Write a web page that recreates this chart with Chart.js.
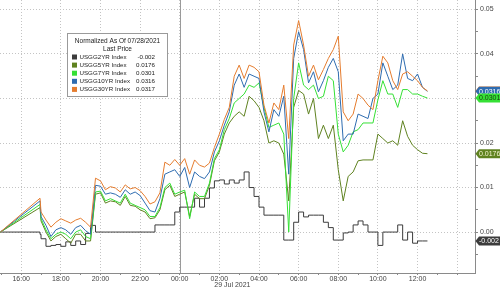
<!DOCTYPE html>
<html>
<head>
<meta charset="utf-8">
<script src="https://cdn.jsdelivr.net/npm/chart.js@4.4.1/dist/chart.umd.min.js"></script>
<style>
  html, body { margin: 0; padding: 0; background: #fff; }
</style>
</head>
<body>
<canvas id="chart" width="500" height="289"></canvas>
<script>
// hours since 00:00 on 28 Jul 2021 (24 = 00:00 on 29 Jul)
const times = [14.95, 16.95,
  17, 17.25, 17.5, 17.75, 18, 18.25, 18.5, 18.75, 19, 19.25, 19.5, 19.75,
  20, 20.25, 20.5, 20.75, 21, 21.25, 21.5, 21.75, 22, 22.25, 22.5, 22.75,
  23, 23.25, 23.5, 23.75, 24, 24.25, 24.5, 24.75, 25, 25.25, 25.5, 25.75,
  26, 26.25, 26.5, 26.75, 27, 27.25, 27.5, 27.75, 28, 28.25, 28.5, 28.75,
  29, 29.25, 29.5, 29.75, 30, 30.25, 30.5, 30.75, 31, 31.25, 31.5, 31.75,
  32, 32.25, 32.5, 32.75, 33, 33.25, 33.5, 33.75, 34, 34.25, 34.5, 34.75,
  35, 35.25, 35.5, 35.75, 36, 36.25, 36.5];

const hourTicks = [15, 16, 17, 18, 19, 20, 21, 22, 23, 24, 25, 26, 27, 28, 29, 30, 31, 32, 33, 34, 35, 36, 37, 38];
const yTicks = [-0.005, 0, 0.005, 0.01, 0.015, 0.02, 0.025, 0.03, 0.035, 0.04, 0.045, 0.05];

// normalized change, in thousandths
const usgg2yr = [0, 0,
  -0.5, -1.5, -3.2, -3.0, -2.8, -3.2, -2.2, -3.0, -2.0, -2.8, -0.3, 1.5,
  0, 0, 0, 0, 0, 0, 0, 0, 0, 0, 0, 0,
  1.6, 1.6, 1.6, 1.6, 4.5, 5.6, 5.6, 5.6, 7.6, 5.6, 7.6, 9.9,
  11.5, 11.7, 10.8, 11.7, 11.0, 11.7, 13.5, 10.0, 8.0, 5.6, 3.8, 3.8,
  3.8, 3.8, -1.8, -1.8, 2.2, 4.5, 3.4, 3.8, 3.8, 3.8, 2.2, 1.0,
  -1.8, -1.8, -0.2, 0, 1.6, 2.5, 1.6, 0, 0, -3.0, 0, 0,
  0, 1.6, -1.8, 0, -2.5, -2.0, -2.0];

const usgg5yr = [0, 5.5,
  2.5, 0, -2.0, -1.0, -0.5, -1.5, -2.5, -0.5, -0.5, -2.0, -2.0, 8.5,
  8.8, 6.5, 7.0, 6.8, 6.0, 8.0, 6.0, 5.8, 5.0, 4.5, 3.0, 3.2,
  5.0, 9.5, 10.5, 8.0, 8.5, 9.0, 3.5, 8.5, 7.5, 7.5, 10.5, 16.0,
  18.0, 22.0, 24.5, 26.0, 27.0, 26.0, 30.5, 29.5, 28.0, 25.0, 20.0, 20.5,
  20.0, 17.5, 7.0, 28.0, 31.8, 31.0, 26.5, 30.0, 21.0, 24.0, 21.0, 24.0,
  14.0, 7.0, 12.5, 13.5, 16.0, 16.2, 16.2, 16.2, 22.0, 21.0, 20.0, 20.5,
  19.5, 25.0, 21.5, 19.5, 18.5, 17.7, 17.6];

const usgg7yr = [0, 6.2,
  3.0, 0.5, -1.5, -0.5, 0, -0.5, -1.5, 0, 0.5, -1.0, -1.5, 9.0,
  9.2, 7.0, 7.5, 7.0, 6.5, 8.5, 6.5, 6.0, 5.5, 5.0, 3.5, 3.5,
  5.5, 10.0, 11.0, 8.5, 9.0, 9.4, 3.0, 9.0, 8.0, 8.0, 11.0, 16.5,
  18.5, 23.0, 25.5, 29.0, 30.0, 31.0, 33.0, 32.5, 33.5, 28.0, 23.5, 24.0,
  24.5, 22.0, 0.0, 30.0, 38.0, 33.0, 32.0, 33.0, 30.0, 30.5, 35.0, 34.0,
  22.0, 18.0, 19.5, 22.5, 23.0, 24.5, 24.5, 24.5, 29.7, 34.0, 31.0, 31.0,
  28.0, 32.0, 32.0, 31.0, 31.0, 30.5, 30.1];

const usgg10yr = [0, 7.0,
  3.5, 1.5, -1.0, 0.5, 1.0, 0.5, -0.5, 1.0, 1.5, 0.3, -0.5, 10.5,
  10.3, 8.5, 8.8, 8.5, 7.8, 9.5, 8.5, 9.0, 8.2, 6.5, 4.8, 4.5,
  7.5, 13.0, 13.5, 14.0, 12.5, 14.5, 10.0, 13.5, 12.5, 12.0, 13.5, 18.0,
  20.5, 24.0, 27.0, 33.0, 35.5, 32.5, 35.5, 35.0, 34.5, 27.0, 22.5, 27.5,
  26.0, 30.5, 13.0, 39.0, 45.0, 41.0, 33.5, 36.0, 31.5, 34.0, 37.0, 39.0,
  36.0, 20.5, 22.0, 22.0, 26.5, 26.0, 25.5, 30.0, 31.0, 38.0, 35.0, 32.0,
  33.0, 40.0, 34.5, 34.0, 35.5, 32.5, 31.6];

const usgg30yr = [0, 7.6,
  4.5, 2.7, 1.1, 2.2, 3.0, 2.5, 2.0, 2.7, 3.1, 2.2, 1.1, 12.1,
  11.5, 9.5, 10.2, 9.9, 9.0, 10.6, 9.7, 10.0, 9.3, 8.0, 6.3, 6.8,
  8.8, 15.7, 15.0, 16.3, 15.0, 16.5, 13.0, 16.2, 15.0, 14.6, 15.5, 19.0,
  22.0, 25.3, 28.0, 35.0, 37.5, 34.5, 37.5, 37.0, 36.0, 28.5, 24.5, 29.0,
  27.5, 33.0, 21.0, 42.0, 47.5, 42.0, 35.0, 37.5, 34.2, 36.5, 39.0, 41.0,
  44.0, 27.0, 25.0, 26.5, 31.0, 30.0, 28.5, 27.5, 34.0, 39.5, 38.0, 34.0,
  32.0, 35.5, 36.0, 35.0, 34.0, 32.5, 31.7];

const seriesNames = ['USGG2YR Index', 'USGG5YR Index', 'USGG7YR Index', 'USGG10YR Index', 'USGG30YR Index'];
const lastPrices = ['-0.002', '0.0176', '0.0301', '0.0316', '0.0317'];
const lastValues = [-0.002, 0.0176, 0.0301, 0.0316, 0.0317];
const seriesColors = ['#3c3c3c', '#5f8220', '#35e035', '#2e6cb0', '#e57c2e'];
const tagTextColors = ['#ffffff', '#f4f4d0', '#1a3a10', '#ffffff', '#ffffff'];

const FONT = '"Liberation Sans", Arial, sans-serif';
Chart.defaults.font.family = FONT;

function toPoints(vals) {
  return times.map((t, i) => ({ x: t, y: vals[i] / 1000 }));
}

const allSeries = [usgg2yr, usgg5yr, usgg7yr, usgg10yr, usgg30yr];
const drawOrder = [5, 4, 3, 2, 1];

const datasets = allSeries.map((vals, i) => ({
  label: seriesNames[i],
  data: toPoints(vals),
  borderColor: seriesColors[i],
  borderWidth: 1,
  pointRadius: 0,
  tension: 0,
  stepped: i === 0 ? 'after' : false,
  order: drawOrder[i]
}));

// vertical line at midnight
const daySeparator = {
  id: 'daySeparator',
  beforeDatasetsDraw(chart) {
    const c = chart.ctx;
    const x = Math.round(chart.scales.x.getPixelForValue(24)) + 0.5;
    c.save();
    c.strokeStyle = '#9a9a9a';
    c.lineWidth = 1;
    c.beginPath();
    c.moveTo(x, chart.chartArea.top);
    c.lineTo(x, chart.chartArea.bottom);
    c.stroke();
    c.restore();
  }
};

// boxed legend with last prices
const legendBox = {
  id: 'legendBox',
  afterDraw(chart) {
    const c = chart.ctx;
    c.save();
    c.fillStyle = '#ffffff';
    c.strokeStyle = '#9a9a9a';
    c.lineWidth = 1;
    c.fillRect(67.5, 33.5, 100, 63);
    c.strokeRect(67.5, 33.5, 100, 63);
    c.fillStyle = '#222';
    c.textBaseline = 'middle';
    c.textAlign = 'center';
    c.font = '6.5px ' + FONT;
    c.fillText('Normalized As Of 07/28/2021', 117.5, 41);
    c.fillText('Last Price', 117.5, 49);
    c.font = '6.2px ' + FONT;
    seriesNames.forEach((name, i) => {
      const y = 57 + i * 8.1;
      c.fillStyle = seriesColors[i];
      c.fillRect(72, y - 2.5, 5, 5);
      c.fillStyle = '#222';
      c.textAlign = 'left';
      c.fillText(name, 79.5, y);
      c.textAlign = 'right';
      c.fillText(lastPrices[i], 155, y);
    });
    c.restore();
  }
};

// last-value tags on the right axis and the date label
const valueTags = {
  id: 'valueTags',
  afterDraw(chart) {
    const c = chart.ctx;
    const ys = chart.scales.y;
    const x0 = chart.chartArea.right;
    c.save();
    c.font = '7px ' + FONT;
    c.textBaseline = 'middle';
    c.textAlign = 'left';
    [0, 1, 4, 3, 2].forEach(i => {
      const y = ys.getPixelForValue(lastValues[i]);
      c.fillStyle = seriesColors[i];
      c.beginPath();
      c.moveTo(x0 + 0.5, y);
      c.lineTo(x0 + 4, y - 4.5);
      c.lineTo(500, y - 4.5);
      c.lineTo(500, y + 4.5);
      c.lineTo(x0 + 4, y + 4.5);
      c.closePath();
      c.fill();
      c.fillStyle = tagTextColors[i];
      c.fillText(lastPrices[i], x0 + 4, y + 0.5);
    });
    c.fillStyle = '#444';
    c.textAlign = 'center';
    c.fillText('29 Jul 2021', chart.scales.x.getPixelForValue(26) + 13, 285);
    c.restore();
  }
};

new Chart(document.getElementById('chart'), {
  type: 'line',
  data: { datasets: datasets },
  options: {
    responsive: false,
    animation: false,
    layout: { padding: 0 },
    plugins: {
      legend: { display: false },
      tooltip: { enabled: false }
    },
    scales: {
      x: {
        type: 'linear',
        min: 14.93,
        max: 38.9,
        afterBuildTicks: s => { s.ticks = hourTicks.map(v => ({ value: v })); },
        afterFit: s => { s.height = 16; s.paddingLeft = 0; s.paddingRight = 0; },
        grid: {
          color: ctx => (ctx.tick && ctx.tick.value % 2 === 0) ? '#c4c4c4' : 'rgba(0,0,0,0)',
          tickColor: '#888',
          tickLength: 2
        },
        border: { display: true, color: '#8a8a8a', dash: [1, 2] },
        ticks: {
          autoSkip: false,
          maxRotation: 0,
          padding: 0,
          color: '#444',
          font: { size: 7 },
          callback: v => (v % 2 === 0 && v >= 16 && v <= 36) ? String(v % 24).padStart(2, '0') + ':00' : ''
        }
      },
      y: {
        position: 'right',
        min: -0.009195,
        max: 0.05212,
        afterBuildTicks: s => { s.ticks = yTicks.map(v => ({ value: v })); },
        afterFit: s => { s.width = 25; s.paddingTop = 0; s.paddingBottom = 0; },
        grid: {
          color: ctx => (ctx.tick && Math.round(ctx.tick.value * 200) % 2 === 0) ? '#c4c4c4' : 'rgba(0,0,0,0)',
          tickColor: '#888',
          tickLength: 3
        },
        border: { display: true, color: '#8a8a8a', dash: [1, 2] },
        ticks: {
          padding: 2,
          color: '#444',
          font: { size: 7 },
          callback: v => Math.round(v * 200) % 2 === 0 ? v.toFixed(2) : ''
        }
      }
    }
  },
  plugins: [daySeparator, legendBox, valueTags]
});
</script>
</body>
</html>
